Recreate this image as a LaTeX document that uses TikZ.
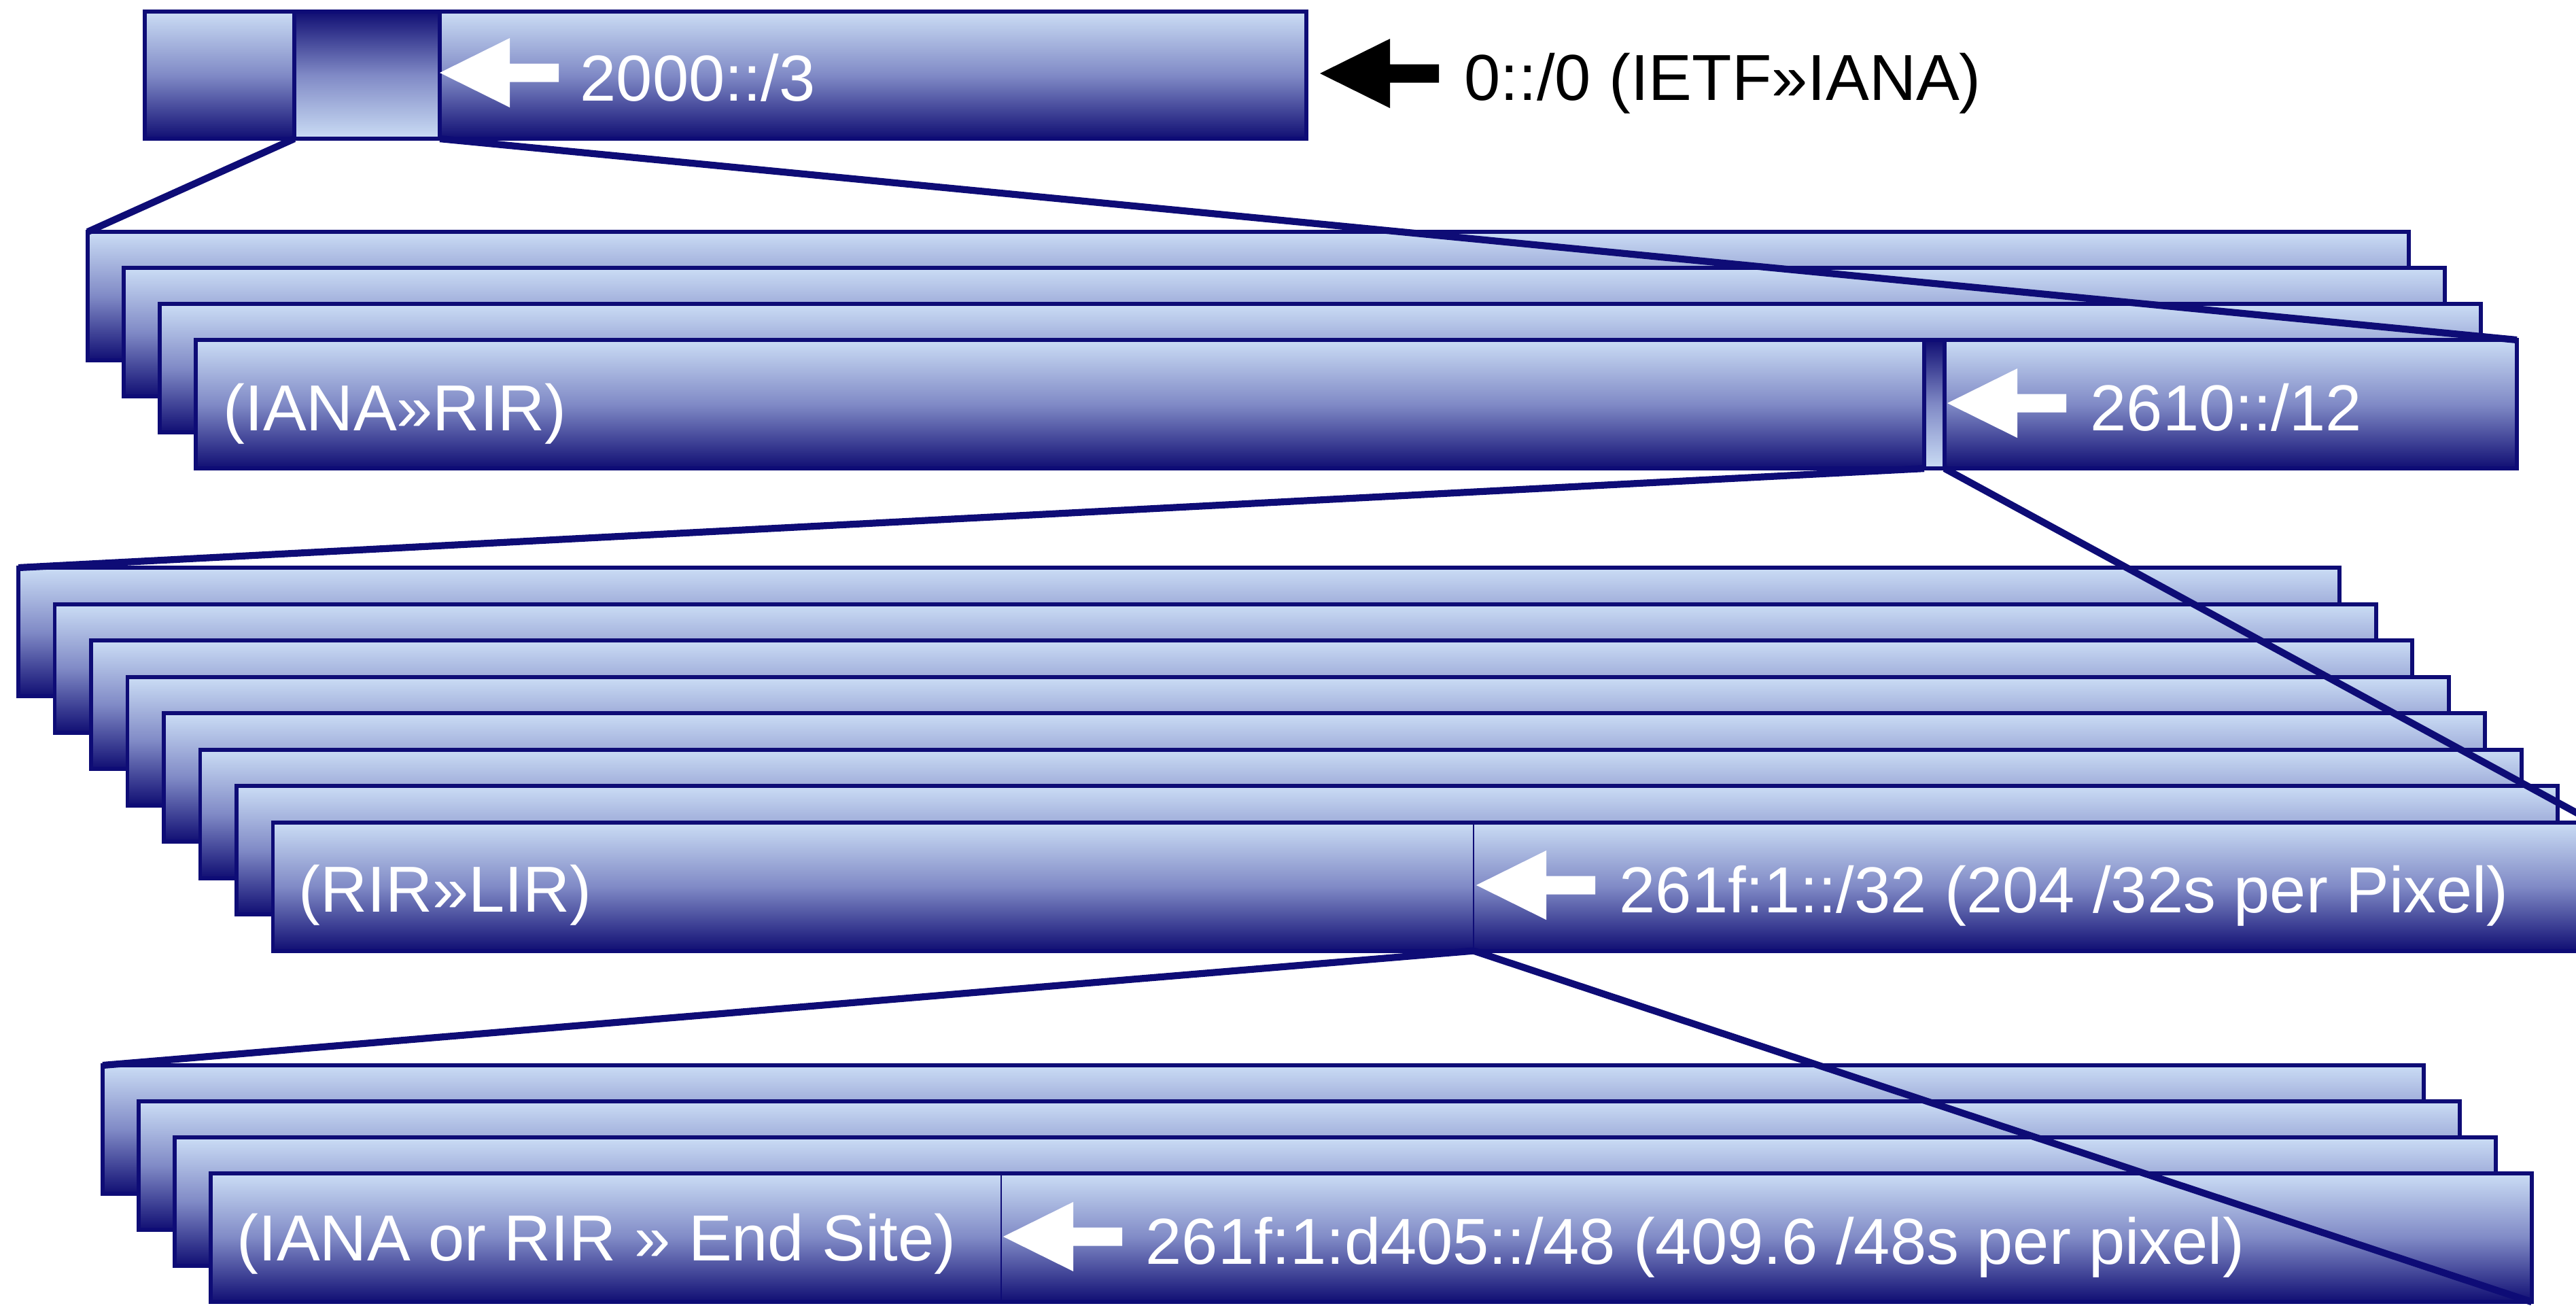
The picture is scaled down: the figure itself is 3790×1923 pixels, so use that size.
\documentclass[tikz,border=0pt]{standalone}
\usepackage{fontspec}
\setmainfont{Liberation Sans}
\usetikzlibrary{positioning}
\definecolor{navy}{RGB}{14,12,118}
\definecolor{barhi}{RGB}{203,221,245}
\definecolor{barmid}{RGB}{128,138,198}
\definecolor{barlo}{RGB}{16,14,115}

\begin{document}
\begin{tikzpicture}[x=0.01cm,y=-0.01cm,font=\fontsize{27.2}{32}\selectfont,
  bar/.style={draw=navy,line width=1.7pt,top color=barhi,bottom color=barlo,middle color=barmid,
    inner sep=0pt,outer sep=0pt,anchor=north west,minimum width=34.13cm,minimum height=1.89cm},
  slot/.style={bar,top color=barlo,bottom color=barhi,middle color=barmid},
  zoomline/.style={navy,line width=2.9pt},
  cutline/.style={navy,line width=0.8pt},
  lbl/.style={anchor=base west,inner sep=0pt,text=white}]
\useasboundingbox (0,0) rectangle (3790,1923);
\clip (0,0) rectangle (3790,1923);

\node[bar,minimum width=17.08cm,minimum height=1.87cm] (iana) at (213,17) {};
\node[slot,minimum width=2.14cm,minimum height=1.87cm] (blk2000) at (433,17) {};

\foreach \i in {1,...,4}
  \node[bar] (rir\i) at ({129+53*(\i-1)},{341+53*(\i-1)}) {};
\node[slot,minimum width=0.3cm] (blk2610) at (2831,500) {};

\foreach \i in {1,...,8}
  \node[bar] (lir\i) at ({27+53.5*(\i-1)},{835+53.5*(\i-1)}) {};
\coordinate (c32) at (2168,0);
\draw[cutline] (lir8.north -| c32) -- (lir8.south -| c32) coordinate (cut32);

\foreach \i in {1,...,4}
  \node[bar] (site\i) at ({151+53*(\i-1)},{1567+53*(\i-1)}) {};
\coordinate (c48) at (1473,0);
\draw[cutline] (site4.north -| c48) -- (site4.south -| c48) coordinate (cut48);

\draw[zoomline] (blk2000.south west) -- (rir1.north west);
\draw[zoomline] (blk2000.south east) -- (rir4.north east);
\draw[zoomline] (blk2610.south west) -- (lir1.north west);
\draw[zoomline] (blk2610.south east) -- (lir8.north east);
\draw[zoomline] (cut32) -- (site1.north west);
\draw[zoomline] (cut32) -- (site4.south east);

\foreach \x/\y/\c in {647/107/white,1942/108/black,2865/593/white,2172/1302/white,1476/1819/white}
  \fill[\c] (\x,\y) -- ++(103,-51) -- ++(0,37.5) -- ++(72,0) -- ++(0,27) -- ++(-72,0) -- ++(0,37.5) -- cycle;

\node[lbl] (t2000) at (853,148) {2000::/3};
\node[lbl,text=black] (tall) at (2154,147) {0::/0 (IETF»IANA)};
\node[lbl] (trir) at (328,633) {(IANA»RIR)};
\node[lbl] (t2610) at (3075,633) {2610::/12};
\node[lbl] (tlir) at (439,1341) {(RIR»LIR)};
\node[lbl] (t32) at (2382,1342) {261f:1::/32 (204 /32s per Pixel)};
\node[lbl] (tsite) at (348,1854) {(IANA or RIR » End Site)};
\node[lbl] (t48) at (1685,1859) {261f:1:d405::/48 (409.6 /48s per pixel)};
\end{tikzpicture}
\end{document}
